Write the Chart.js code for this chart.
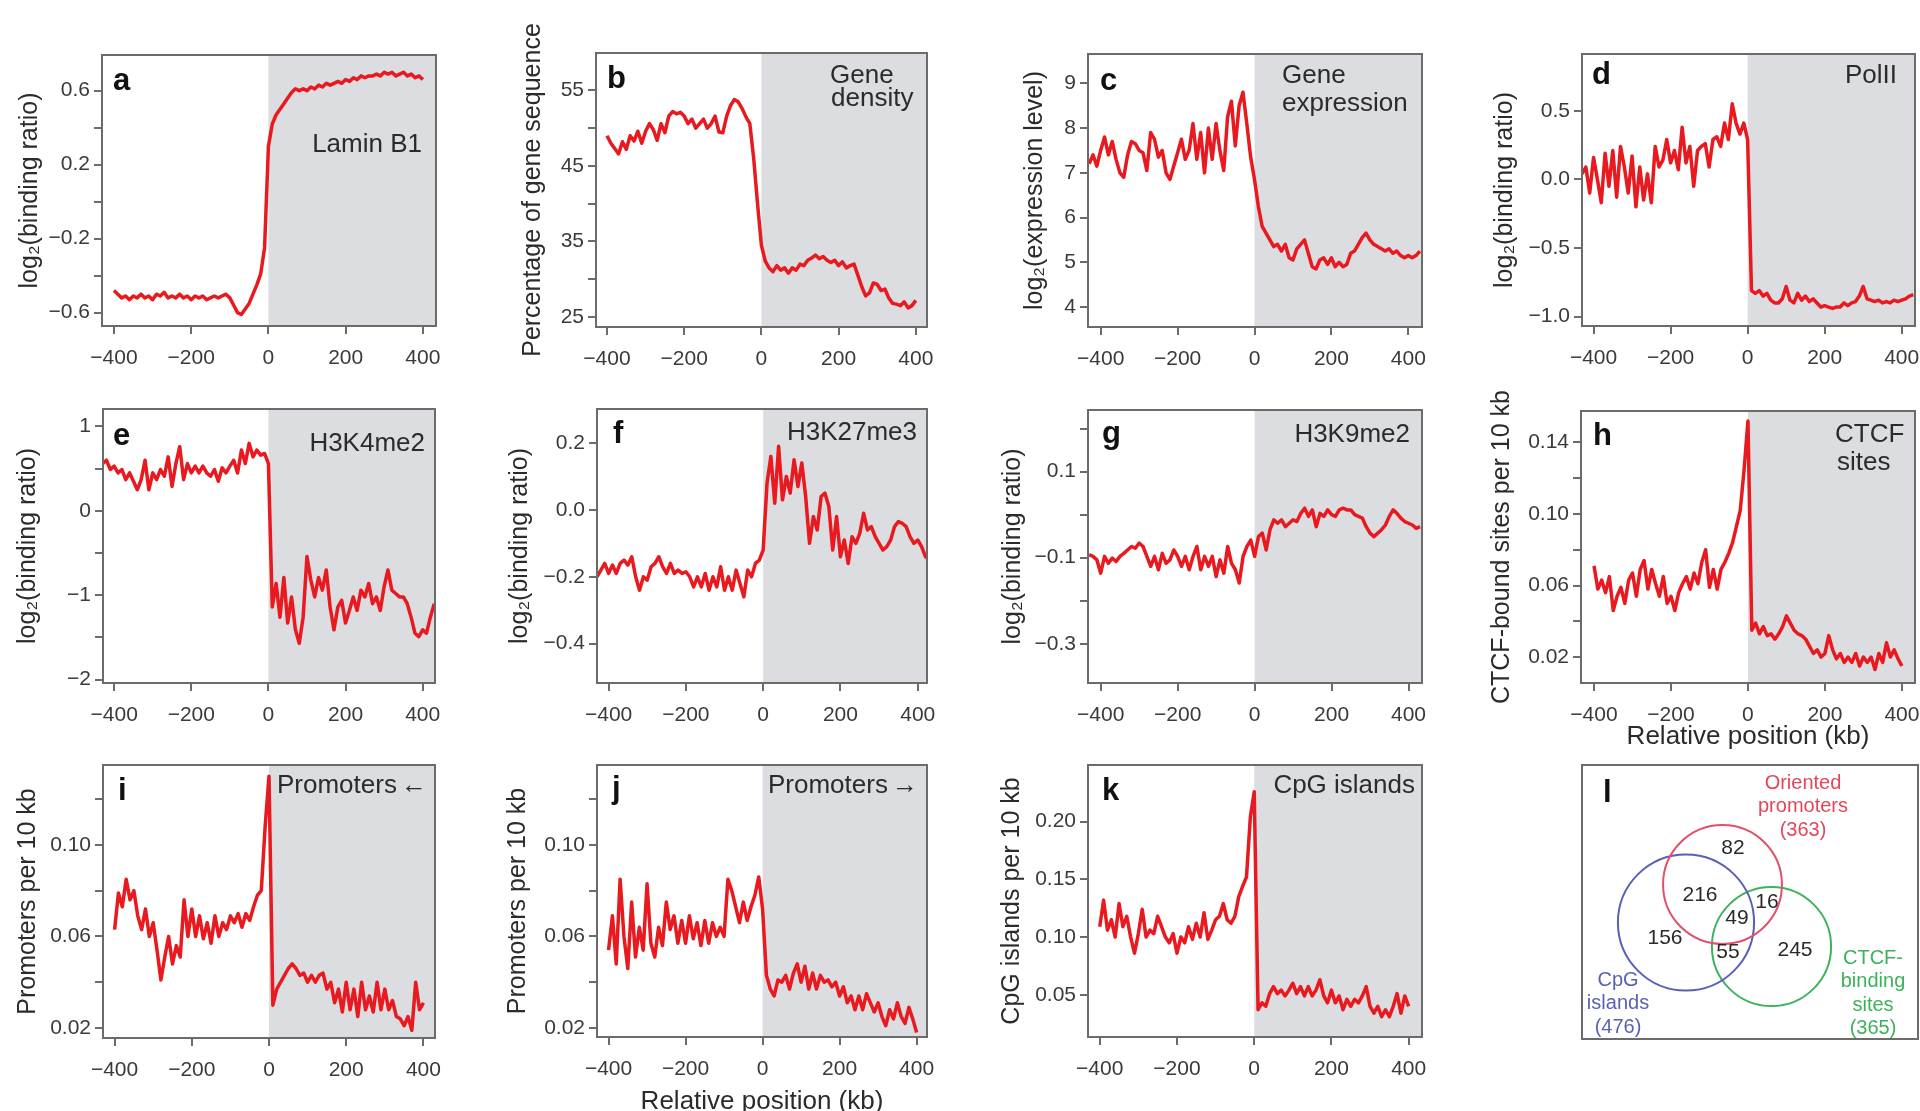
<!DOCTYPE html>
<html>
<head>
<meta charset="utf-8">
<script src="https://cdn.jsdelivr.net/npm/chart.js@4.4.1/dist/chart.umd.min.js"></script>
<style>
  html, body { margin: 0; padding: 0; background: #ffffff; width: 1920px; height: 1111px; overflow: hidden; position: relative; }
  canvas { position: absolute; }
</style>
</head>
<body>
<script>
// ---------- bin centres (kb relative to the LAD border) ----------
const binPositions = [-400,-390,-380,-370,-360,-350,-340,-330,-320,-310,-300,-290,-280,-270,-260,-250,-240,-230,-220,-210,
  -200,-190,-180,-170,-160,-150,-140,-130,-120,-110,-100,-90,-80,-70,-60,-50,-40,-30,-20,-10,0,
  10,20,30,40,50,60,70,80,90,100,110,120,130,140,150,160,170,180,190,200,210,220,230,240,250,260,270,280,290,300,
  310,320,330,340,350,360,370,380,390,400];
const binPositionsWide = [-430,-420,-410,-400,-390,-380,-370,-360,-350,-340,-330,-320,-310,-300,-290,-280,-270,-260,-250,-240,
  -230,-220,-210,-200,-190,-180,-170,-160,-150,-140,-130,-120,-110,-100,-90,-80,-70,-60,-50,-40,-30,-20,-10,0,
  10,20,30,40,50,60,70,80,90,100,110,120,130,140,150,160,170,180,190,200,210,220,230,240,250,260,270,280,290,300,
  310,320,330,340,350,360,370,380,390,400,410,420,430];

// ---------- profiles ----------
const laminB1 = [-0.48,-0.50,-0.52,-0.51,-0.53,-0.51,-0.52,-0.50,-0.52,-0.51,
  -0.53,-0.50,-0.51,-0.49,-0.52,-0.51,-0.52,-0.50,-0.52,-0.51,
  -0.53,-0.51,-0.52,-0.51,-0.53,-0.52,-0.51,-0.52,-0.51,-0.50,
  -0.52,-0.56,-0.60,-0.61,-0.58,-0.55,-0.50,-0.45,-0.39,-0.25,
  0.30,
  0.42,0.47,0.50,0.53,0.56,0.59,0.61,0.60,0.61,0.60,
  0.62,0.61,0.63,0.62,0.64,0.63,0.64,0.65,0.64,0.66,
  0.65,0.67,0.66,0.68,0.67,0.68,0.68,0.69,0.68,0.70,
  0.69,0.70,0.68,0.69,0.70,0.68,0.69,0.67,0.68,0.66];

const geneDensity = [49.0,48.0,47.3,46.6,48.2,47.2,49.0,48.3,49.6,48.0,
  49.6,50.6,49.8,48.4,50.6,49.4,51.6,52.2,51.9,52.1,
  51.6,50.6,51.2,50.0,50.6,51.2,50.0,50.6,51.6,49.5,
  49.4,51.6,53.0,53.8,53.5,52.6,51.5,50.6,46.0,40.0,
  34.5,
  32.4,31.5,31.0,31.8,31.2,31.5,30.8,31.5,31.2,32.0,
  31.8,32.5,32.8,33.2,32.7,33.0,32.5,32.2,32.5,31.8,
  32.3,31.5,31.8,32.0,30.5,29.0,27.8,28.2,29.5,29.3,
  28.5,28.7,27.5,26.8,26.7,26.5,27.0,26.2,26.5,27.2];

const geneExpression = [7.2,7.4,7.15,7.5,7.8,7.4,7.7,7.3,7.0,6.9,
  7.4,7.7,7.65,7.5,7.45,7.05,7.9,7.75,7.35,7.5,
  7.0,6.85,7.15,7.45,7.75,7.3,7.5,8.1,7.3,7.9,
  7.0,8.0,7.3,8.1,7.5,7.05,8.25,8.6,7.6,8.5,
  8.8,8.1,7.35,
  6.85,
  6.25,5.8,5.65,5.5,5.35,5.4,5.25,5.4,5.1,5.05,
  5.3,5.4,5.5,5.2,4.9,4.85,5.05,5.1,4.95,5.1,
  4.9,5.0,4.9,4.95,5.2,5.25,5.4,5.55,5.65,5.5,
  5.4,5.35,5.3,5.25,5.3,5.2,5.25,5.15,5.1,5.15,
  5.1,5.15,5.25];

const polII = [0.04,0.09,-0.10,0.16,0.00,-0.17,0.19,-0.05,0.21,-0.13,
  0.24,0.09,-0.10,0.17,-0.20,0.09,-0.15,0.04,-0.17,0.24,
  0.09,0.14,0.29,0.12,0.21,0.07,0.38,0.12,0.24,-0.05,
  0.21,0.24,0.26,0.09,0.29,0.31,0.24,0.41,0.29,0.55,
  0.41,0.33,0.41,
  0.29,
  -0.81,-0.83,-0.81,-0.85,-0.83,-0.88,-0.90,-0.90,-0.87,-0.78,
  -0.88,-0.90,-0.83,-0.88,-0.85,-0.89,-0.87,-0.90,-0.93,-0.92,
  -0.93,-0.94,-0.93,-0.93,-0.90,-0.92,-0.90,-0.89,-0.85,-0.78,
  -0.87,-0.88,-0.89,-0.88,-0.90,-0.89,-0.90,-0.88,-0.89,-0.88,
  -0.87,-0.85,-0.84];

const h3k4me2 = [0.56,0.60,0.49,0.53,0.45,0.49,0.37,0.45,0.35,0.25,
  0.37,0.60,0.25,0.45,0.37,0.49,0.41,0.64,0.29,0.56,
  0.76,0.37,0.56,0.45,0.53,0.45,0.53,0.45,0.41,0.49,
  0.35,0.51,0.45,0.53,0.60,0.45,0.72,0.56,0.80,0.64,
  0.72,0.66,0.68,
  0.56,
  -1.14,-0.86,-1.26,-0.79,-1.33,-1.02,-1.41,-1.57,-1.26,-0.54,
  -0.82,-1.02,-0.79,-0.94,-0.70,-1.14,-1.41,-1.14,-1.06,-1.33,
  -1.18,-1.02,-1.18,-0.94,-1.02,-0.86,-1.10,-1.02,-1.18,-0.90,
  -0.70,-0.94,-0.98,-1.02,-1.02,-1.10,-1.26,-1.45,-1.49,-1.41,
  -1.45,-1.26,-1.10];

const h3k27me3 = [-0.20,-0.18,-0.16,-0.19,-0.165,-0.19,-0.16,-0.15,-0.165,-0.14,
  -0.20,-0.24,-0.20,-0.21,-0.17,-0.16,-0.14,-0.17,-0.19,-0.16,
  -0.19,-0.18,-0.19,-0.185,-0.20,-0.23,-0.20,-0.23,-0.19,-0.24,
  -0.20,-0.23,-0.17,-0.24,-0.20,-0.24,-0.18,-0.22,-0.26,-0.18,
  -0.20,-0.16,-0.15,
  -0.12,
  0.08,0.16,0.02,0.19,0.03,0.10,0.05,0.15,0.07,0.14,
  0.04,-0.10,-0.02,-0.06,0.04,0.05,0.01,-0.12,-0.02,-0.14,
  -0.09,-0.16,-0.08,-0.10,-0.07,-0.01,-0.06,-0.05,-0.08,-0.10,
  -0.12,-0.11,-0.09,-0.05,-0.035,-0.04,-0.05,-0.08,-0.10,-0.09,
  -0.11,-0.14,-0.15];

const h3k9me2 = [-0.093,-0.097,-0.105,-0.136,-0.097,-0.113,-0.101,-0.109,-0.097,-0.090,
  -0.082,-0.074,-0.078,-0.066,-0.074,-0.097,-0.120,-0.097,-0.128,-0.090,
  -0.113,-0.105,-0.082,-0.097,-0.120,-0.097,-0.128,-0.097,-0.074,-0.128,
  -0.097,-0.120,-0.097,-0.144,-0.105,-0.136,-0.074,-0.113,-0.128,-0.159,
  -0.097,-0.074,-0.059,
  -0.097,
  -0.051,-0.043,-0.082,-0.035,-0.012,-0.020,-0.012,-0.028,-0.020,-0.012,
  -0.016,0.003,0.015,-0.004,0.011,-0.028,0.003,-0.004,0.011,0.000,
  -0.004,0.011,0.015,0.011,0.011,0.000,-0.004,-0.008,-0.028,-0.043,
  -0.051,-0.043,-0.035,-0.024,-0.004,0.011,0.003,-0.008,-0.016,-0.020,
  -0.024,-0.032,-0.028];

const ctcfSites = [0.071,0.058,0.063,0.056,0.065,0.046,0.054,0.059,0.050,0.063,
  0.067,0.054,0.069,0.074,0.058,0.069,0.061,0.054,0.065,0.050,
  0.054,0.046,0.056,0.061,0.065,0.058,0.067,0.061,0.073,0.080,
  0.059,0.069,0.058,0.069,0.073,0.078,0.084,0.093,0.102,0.125,
  0.152,
  0.035,0.039,0.033,0.037,0.032,0.033,0.030,0.033,0.037,0.043,
  0.039,0.035,0.033,0.032,0.030,0.026,0.022,0.024,0.020,0.022,
  0.032,0.024,0.019,0.022,0.017,0.020,0.017,0.022,0.015,0.020,
  0.017,0.020,0.013,0.022,0.017,0.028,0.020,0.024,0.019,0.015];

const promotersRev = [0.063,0.079,0.073,0.085,0.076,0.080,0.069,0.063,0.072,0.060,
  0.066,0.054,0.041,0.051,0.060,0.048,0.056,0.051,0.076,0.060,
  0.072,0.060,0.069,0.059,0.066,0.057,0.069,0.060,0.066,0.063,
  0.069,0.066,0.070,0.064,0.070,0.067,0.073,0.078,0.080,0.108,
  0.130,
  0.030,0.037,0.040,0.043,0.046,0.048,0.046,0.043,0.044,0.040,
  0.043,0.040,0.043,0.044,0.037,0.040,0.031,0.037,0.027,0.040,
  0.028,0.037,0.025,0.040,0.028,0.034,0.027,0.040,0.028,0.037,
  0.028,0.032,0.025,0.024,0.021,0.025,0.019,0.040,0.028,0.031];

const promotersFwd = [0.054,0.069,0.048,0.085,0.060,0.046,0.075,0.051,0.064,0.054,
  0.083,0.057,0.051,0.064,0.056,0.075,0.063,0.069,0.057,0.067,
  0.057,0.069,0.059,0.066,0.056,0.067,0.057,0.066,0.060,0.064,
  0.060,0.085,0.080,0.073,0.066,0.075,0.067,0.073,0.078,0.086,
  0.072,
  0.043,0.037,0.034,0.041,0.040,0.043,0.037,0.044,0.048,0.040,
  0.047,0.037,0.044,0.037,0.043,0.040,0.041,0.038,0.040,0.034,
  0.038,0.031,0.034,0.028,0.034,0.028,0.035,0.031,0.027,0.031,
  0.025,0.021,0.028,0.024,0.031,0.025,0.022,0.029,0.024,0.018];

const cpgIslands = [0.109,0.132,0.106,0.115,0.100,0.129,0.109,0.118,0.100,0.086,
  0.103,0.124,0.100,0.106,0.103,0.118,0.109,0.100,0.095,0.103,
  0.086,0.100,0.095,0.109,0.098,0.112,0.100,0.121,0.098,0.106,
  0.115,0.118,0.129,0.115,0.112,0.118,0.135,0.144,0.152,0.204,
  0.226,
  0.037,0.043,0.040,0.051,0.057,0.051,0.054,0.049,0.054,0.060,
  0.051,0.057,0.049,0.057,0.049,0.054,0.063,0.049,0.043,0.054,
  0.043,0.049,0.037,0.046,0.040,0.046,0.043,0.049,0.057,0.040,
  0.034,0.040,0.031,0.037,0.031,0.040,0.051,0.034,0.049,0.040];

// ---------- tick values and labels ----------
const xTickValues = [-400, -200, 0, 200, 400];
const xTickLabels = ['\u2212400', '\u2212200', '0', '200', '400'];

const yTicksA = [-0.6, -0.4, -0.2, 0, 0.2, 0.4, 0.6];
const yLabelsA = ['\u22120.6', '', '\u22120.2', '', '0.2', '', '0.6'];
const yTicksB = [25, 30, 35, 40, 45, 50, 55];
const yLabelsB = ['25', '', '35', '', '45', '', '55'];
const yTicksC = [4, 5, 6, 7, 8, 9];
const yLabelsC = ['4', '5', '6', '7', '8', '9'];
const yTicksD = [-1, -0.5, 0, 0.5];
const yLabelsD = ['\u22121.0', '\u22120.5', '0.0', '0.5'];
const yTicksE = [-2, -1.5, -1, -0.5, 0, 0.5, 1];
const yLabelsE = ['\u22122', '', '\u22121', '', '0', '', '1'];
const yTicksF = [-0.4, -0.2, 0, 0.2];
const yLabelsF = ['\u22120.4', '\u22120.2', '0.0', '0.2'];
const yTicksG = [-0.3, -0.2, -0.1, 0, 0.1, 0.2];
const yLabelsG = ['\u22120.3', '', '\u22120.1', '', '0.1', ''];
const yTicksH = [0.02, 0.04, 0.06, 0.08, 0.10, 0.12, 0.14];
const yLabelsH = ['0.02', '', '0.06', '', '0.10', '', '0.14'];
const yTicksIJ = [0.02, 0.04, 0.06, 0.08, 0.10, 0.12];
const yLabelsIJ = ['0.02', '', '0.06', '', '0.10', ''];
const yTicksK = [0.05, 0.10, 0.15, 0.20];
const yLabelsK = ['0.05', '0.10', '0.15', '0.20'];

// ---------- Venn counts ----------
const vennSetNames = [['Oriented', 'promoters'], ['CpG', 'islands'], ['CTCF-', 'binding', 'sites']];
const vennSetTotals = [363, 476, 365];
// promoters only, promoters+CpG, promoters+CTCF, all three, CpG only, CpG+CTCF, CTCF only
const vennRegionCounts = [82, 216, 16, 49, 156, 55, 245];

// ---------- styling ----------
const FONT = "'Liberation Sans', Arial, Helvetica, sans-serif";
const RED = '#e8191f';
const SHADE = '#dcdde0';
const FRAME = '#6b6b6b';
const TICK_TEXT = '#3a3a3a';
const TEXT = '#2b2b2b';
Chart.defaults.font.family = FONT;

const panels = [
  { box: [102, 55, 436, 326], x: [-431, 434], y: [-0.672, 0.793], ticks: yTicksA, labels: yLabelsA,
    pos: binPositions, values: laminB1, yTitle: 'log\u2082(binding ratio)', yTitleX: 30,
    letter: ['a', 113, 90], texts: [['Lamin B1', 422, 152, 'right']] },
  { box: [596, 53, 927, 327], x: [-428.5, 429], y: [23.67, 59.96], ticks: yTicksB, labels: yLabelsB,
    pos: binPositions, values: geneDensity, yTitle: 'Percentage of gene sequence', yTitleX: 533,
    letter: ['b', 607, 88], texts: [['Gene', 830, 83, 'left'], ['density', 831, 106, 'left']] },
  { box: [1088, 54, 1422, 327], x: [-433, 435.6], y: [3.552, 9.656], ticks: yTicksC, labels: yLabelsC,
    pos: binPositionsWide, values: geneExpression, yTitle: 'log\u2082(expression level)', yTitleX: 1035,
    letter: ['c', 1100, 90], texts: [['Gene', 1282, 83, 'left'], ['expression', 1282, 111, 'left']] },
  { box: [1582, 54, 1915, 326], x: [-430, 434.5], y: [-1.068, 0.913], ticks: yTicksD, labels: yLabelsD,
    pos: binPositionsWide, values: polII, yTitle: 'log\u2082(binding ratio)', yTitleX: 1505,
    letter: ['d', 1592, 84], texts: [['PolII', 1897, 83, 'right']] },
  { box: [103, 409, 435, 683], x: [-429, 432], y: [-2.04, 1.207], ticks: yTicksE, labels: yLabelsE,
    pos: binPositionsWide, values: h3k4me2, yTitle: 'log\u2082(binding ratio)', yTitleX: 28,
    letter: ['e', 113, 445], texts: [['H3K4me2', 425, 451, 'right']] },
  { box: [597, 409, 927, 683], x: [-430, 424], y: [-0.5175, 0.3016], ticks: yTicksF, labels: yLabelsF,
    pos: binPositionsWide, values: h3k27me3, yTitle: 'log\u2082(binding ratio)', yTitleX: 520,
    letter: ['f', 613, 443], texts: [['H3K27me3', 917, 440, 'right']] },
  { box: [1088, 410, 1422, 683], x: [-433, 435], y: [-0.3912, 0.2432], ticks: yTicksG, labels: yLabelsG,
    pos: binPositionsWide, values: h3k9me2, yTitle: 'log\u2082(binding ratio)', yTitleX: 1013,
    letter: ['g', 1102, 443], texts: [['H3K9me2', 1410, 442, 'right']] },
  { box: [1581, 411, 1915, 683], x: [-433.8, 434], y: [0.00549, 0.1576], ticks: yTicksH, labels: yLabelsH,
    pos: binPositions, values: ctcfSites, yTitle: 'CTCF-bound sites per 10 kb', yTitleX: 1502,
    xTitleY: 737,
    letter: ['h', 1593, 445], texts: [['CTCF', 1835, 442, 'left'], ['sites', 1837, 470, 'left']] },
  { box: [103, 765, 435, 1038], x: [-430, 430], y: [0.01564, 0.1349], ticks: yTicksIJ, labels: yLabelsIJ,
    pos: binPositions, values: promotersRev, yTitle: 'Promoters per 10 kb', yTitleX: 28,
    letter: ['i', 118, 800], texts: [['Promoters', 277, 793, 'left'], ['\u2190', 427, 793, 'right', 'bold ']] },
  { box: [597, 765, 927, 1037], x: [-430, 427], y: [0.01607, 0.1349], ticks: yTicksIJ, labels: yLabelsIJ,
    pos: binPositions, values: promotersFwd, yTitle: 'Promoters per 10 kb', yTitleX: 518,
    xTitleY: 1102,
    letter: ['j', 612, 798], texts: [['Promoters', 768, 793, 'left'], ['\u2192', 918, 793, 'right', 'bold ']] },
  { box: [1088, 765, 1422, 1037], x: [-430.4, 434.5], y: [0.01339, 0.2491], ticks: yTicksK, labels: yLabelsK,
    pos: binPositions, values: cpgIslands, yTitle: 'CpG islands per 10 kb', yTitleX: 1012,
    letter: ['k', 1102, 800], texts: [['CpG islands', 1415, 793, 'right']] }
];

function addCanvas(left, top, w, h) {
  const cv = document.createElement('canvas');
  cv.width = w; cv.height = h;
  cv.style.left = left + 'px'; cv.style.top = top + 'px';
  cv.style.width = w + 'px'; cv.style.height = h + 'px';
  document.body.appendChild(cv);
  return cv;
}

function drawLetter(ctx, letter, ox, oy) {
  ctx.save();
  ctx.font = 'bold 31px ' + FONT;
  ctx.fillStyle = '#111111';
  ctx.textAlign = 'left';
  ctx.textBaseline = 'alphabetic';
  ctx.fillText(letter[0], letter[1] - ox, letter[2] - oy);
  ctx.restore();
}

function makePanel(p) {
  const [bl, bt, br, bb] = p.box;
  const T = 50, R = 30;
  const B = p.xTitleY ? (p.xTitleY + 15 - bb) : 50;
  const left = p.yTitleX - 15;
  const L = bl - left;
  const top = bt - T;
  const W = (br - bl) + L + R;
  const H = (bb - bt) + T + B;
  const cv = addCanvas(left, top, W, H);

  const decor = {
    id: 'decor',
    beforeDatasetsDraw(chart) {
      const { ctx, chartArea: a, scales } = chart;
      const x0 = scales.x.getPixelForValue(0);
      ctx.save();
      ctx.fillStyle = SHADE;
      ctx.fillRect(x0, a.top, a.right - x0, a.bottom - a.top);
      ctx.restore();
    },
    afterDatasetsDraw(chart) {
      const { ctx, chartArea: a } = chart;
      ctx.save();
      ctx.strokeStyle = FRAME;
      ctx.lineWidth = 2;
      ctx.strokeRect(a.left, a.top, a.right - a.left, a.bottom - a.top);
      ctx.restore();
      drawLetter(ctx, p.letter, left, top);
      ctx.save();
      ctx.fillStyle = TEXT;
      ctx.textBaseline = 'alphabetic';
      p.texts.forEach(t => {
        ctx.font = (t[4] || '') + '26px ' + FONT;
        ctx.textAlign = t[3];
        ctx.fillText(t[0], t[1] - left, t[2] - top);
      });
      ctx.restore();
    }
  };

  new Chart(cv, {
    type: 'line',
    data: {
      datasets: [{
        data: p.pos.map((x, i) => ({ x: x, y: p.values[i] })),
        borderColor: RED,
        borderWidth: 3.5,
        pointRadius: 0,
        tension: 0,
        fill: false,
        borderJoinStyle: 'round'
      }]
    },
    options: {
      responsive: false,
      animation: false,
      events: [],
      layout: { autoPadding: false, padding: { top: T, right: R, left: 0, bottom: 0 } },
      plugins: { legend: { display: false }, tooltip: { enabled: false } },
      scales: {
        x: {
          type: 'linear', min: p.x[0], max: p.x[1],
          afterBuildTicks: s => { s.ticks = xTickValues.map(v => ({ value: v })); },
          afterFit: s => { s.height = B; },
          ticks: { callback: (v, i) => xTickLabels[i], font: { size: 21 }, color: TICK_TEXT,
                   padding: 12, autoSkip: false, maxRotation: 0 },
          grid: { drawOnChartArea: false, drawTicks: true, tickLength: 8, color: FRAME, lineWidth: 2 },
          border: { display: false },
          title: { display: !!p.xTitleY, text: 'Relative position (kb)', font: { size: 26 }, color: TEXT,
                   padding: { top: 0, bottom: 0 } }
        },
        y: {
          type: 'linear', min: p.y[0], max: p.y[1],
          afterBuildTicks: s => { s.ticks = p.ticks.map(v => ({ value: v })); },
          afterFit: s => { s.width = L; },
          ticks: { callback: (v, i) => p.labels[i], font: { size: 21 }, color: TICK_TEXT,
                   padding: 4, autoSkip: false },
          grid: { drawOnChartArea: false, drawTicks: true, tickLength: 8, color: FRAME, lineWidth: 2 },
          border: { display: false },
          title: { display: true, text: p.yTitle, font: { size: 25 }, color: TEXT,
                   padding: { top: 0, bottom: 0 } }
        }
      }
    },
    plugins: [decor]
  });
}

panels.forEach(makePanel);

// ---------- panel l: Venn diagram of border elements ----------
(function () {
  const box = [1582, 765, 1918, 1039];
  const pad = 4;
  const left = box[0] - pad, top = box[1] - pad;
  const W = box[2] - box[0] + 2 * pad, H = box[3] - box[1] + 2 * pad;
  const cv = addCanvas(left, top, W, H);

  // circle centres inside the panel (px from the panel's top-left corner)
  const vennLayout = { centres: [[140.5, 119.5], [104, 157.5], [189.5, 181.5]], radiusPerSqrt: 3.12 };
  const setColours = ['#e2506a', '#5a5fb6', '#3fb35c'];
  const setTextColours = ['#e2475a', '#5862b4', '#3cb25a'];
  // label anchors (page px): set names with totals, then region counts
  const setLabelPos = [[1803, 783], [1618, 980], [1873, 958]];
  const regionPos = [[1733, 848], [1700, 895], [1767, 902], [1737, 918], [1665, 938], [1728, 952], [1795, 950]];

  const text = {
    id: 'vennText',
    afterDatasetsDraw(chart) {
      const { ctx, chartArea: a } = chart;
      ctx.save();
      ctx.strokeStyle = FRAME;
      ctx.lineWidth = 2;
      ctx.strokeRect(a.left, a.top, a.right - a.left, a.bottom - a.top);
      ctx.restore();
      drawLetter(ctx, ['l', 1603, 802], left, top);
      ctx.save();
      ctx.textAlign = 'center';
      ctx.textBaseline = 'middle';
      ctx.font = '20px ' + FONT;
      vennSetNames.forEach((lines, k) => {
        ctx.fillStyle = setTextColours[k];
        const all = lines.concat(['(' + vennSetTotals[k] + ')']);
        all.forEach((ln, j) => {
          ctx.fillText(ln, setLabelPos[k][0] - left, setLabelPos[k][1] + j * 23.5 - top);
        });
      });
      ctx.fillStyle = '#2a2a2a';
      ctx.font = '21px ' + FONT;
      vennRegionCounts.forEach((c, k) => {
        ctx.fillText(String(c), regionPos[k][0] - left, regionPos[k][1] - top);
      });
      ctx.restore();
    }
  };

  new Chart(cv, {
    type: 'bubble',
    data: {
      datasets: vennSetTotals.map((tot, k) => ({
        data: [{ x: vennLayout.centres[k][0], y: vennLayout.centres[k][1], r: vennLayout.radiusPerSqrt * Math.sqrt(tot) }],
        backgroundColor: 'rgba(0,0,0,0)',
        borderColor: setColours[k],
        borderWidth: 2,
        clip: false
      }))
    },
    options: {
      responsive: false,
      animation: false,
      events: [],
      layout: { autoPadding: false, padding: pad },
      plugins: { legend: { display: false }, tooltip: { enabled: false } },
      scales: {
        x: { type: 'linear', min: 0, max: box[2] - box[0], display: false },
        y: { type: 'linear', min: 0, max: box[3] - box[1], reverse: true, display: false }
      }
    },
    plugins: [text]
  });
})();
</script>
</body>
</html>
